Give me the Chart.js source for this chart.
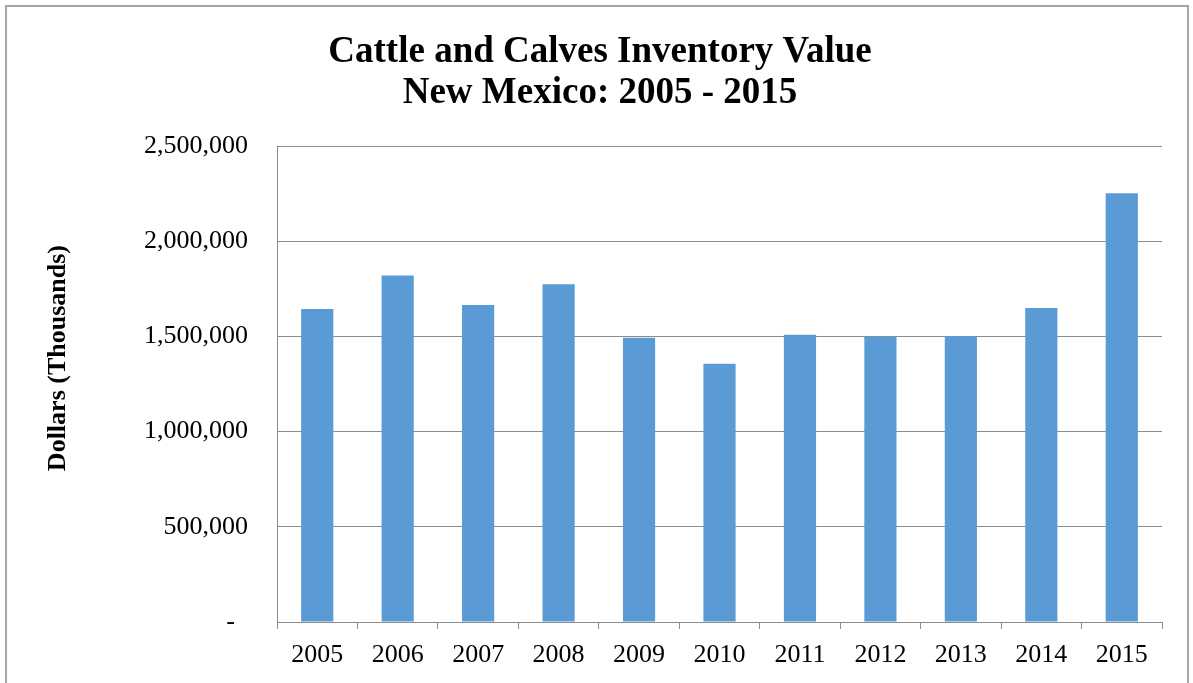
<!DOCTYPE html>
<html>
<head>
<meta charset="utf-8">
<script src="https://cdn.jsdelivr.net/npm/chart.js@4.4.1/dist/chart.umd.min.js"></script>
<style>
  html, body { margin: 0; padding: 0; background: #fff; }
  #wrap { position: relative; width: 1193px; height: 683px; overflow: hidden; }
  #frame { position: absolute; left: 5px; top: 5px; width: 1184px; height: 700px; border: 2px solid #a6a6a6; box-sizing: border-box; }
  #grafico { position: absolute; left: 0; top: 0; }
</style>
</head>
<body>
<div id="wrap">
  <div id="frame"></div>
  <canvas id="grafico" width="1193" height="683"></canvas>
</div>
<script>
// Dados do gráfico
const anos = ["2005", "2006", "2007", "2008", "2009", "2010", "2011", "2012", "2013", "2014", "2015"];
const valores = [1644000, 1821000, 1665000, 1774000, 1493000, 1357000, 1509000, 1500000, 1501000, 1649000, 2252000];
const titulo = ["Cattle and Calves Inventory Value", "New Mexico: 2005 - 2015"];
const tituloEixoY = "Dollars (Thousands)";

const fonte = '"Liberation Serif", "Times New Roman", serif';
const cinza = "#8c8c8c";

// Formato contábil: zero aparece como "-"
function formatarValor(v) {
  if (v === 0) return "-  ";
  return v.toLocaleString("en-US");
}

new Chart(document.getElementById("grafico"), {
  type: "bar",
  data: {
    labels: anos,
    datasets: [{
      data: valores,
      backgroundColor: "#5b9bd5",
      borderWidth: 0,
      categoryPercentage: 1,
      barPercentage: 0.4
    }]
  },
  options: {
    responsive: false,
    animation: false,
    layout: { padding: { left: 38, right: 31, top: 0, bottom: 0 } },
    plugins: {
      legend: { display: false },
      tooltip: { enabled: false },
      title: {
        display: true,
        text: titulo,
        color: "#000",
        font: { family: fonte, size: 37, weight: "bold", lineHeight: 1.11 },
        padding: { top: 32, bottom: 32 }
      }
    },
    scales: {
      y: {
        min: 0,
        max: 2500000,
        ticks: {
          stepSize: 500000,
          color: "#000",
          font: { family: fonte, size: 26 },
          padding: 29,
          callback: v => formatarValor(v)
        },
        grid: { color: cinza, drawTicks: false },
        border: { display: true, color: cinza },
        title: {
          display: true,
          // espaços à esquerda sobem o título, como no original
          text: "        " + tituloEixoY,
          color: "#000",
          font: { family: fonte, size: 26, weight: "bold" },
          padding: { top: 5, bottom: 0 }
        },
        afterFit: scale => { scale.width = 239; }
      },
      x: {
        ticks: {
          color: "#000",
          font: { family: fonte, size: 26 },
          padding: 11,
          maxRotation: 0
        },
        grid: { display: true, drawOnChartArea: false, drawTicks: true, tickLength: 7, color: cinza },
        border: { display: true, color: cinza },
        afterFit: scale => { scale.height = 61; }
      }
    }
  }
});
</script>
</body>
</html>
